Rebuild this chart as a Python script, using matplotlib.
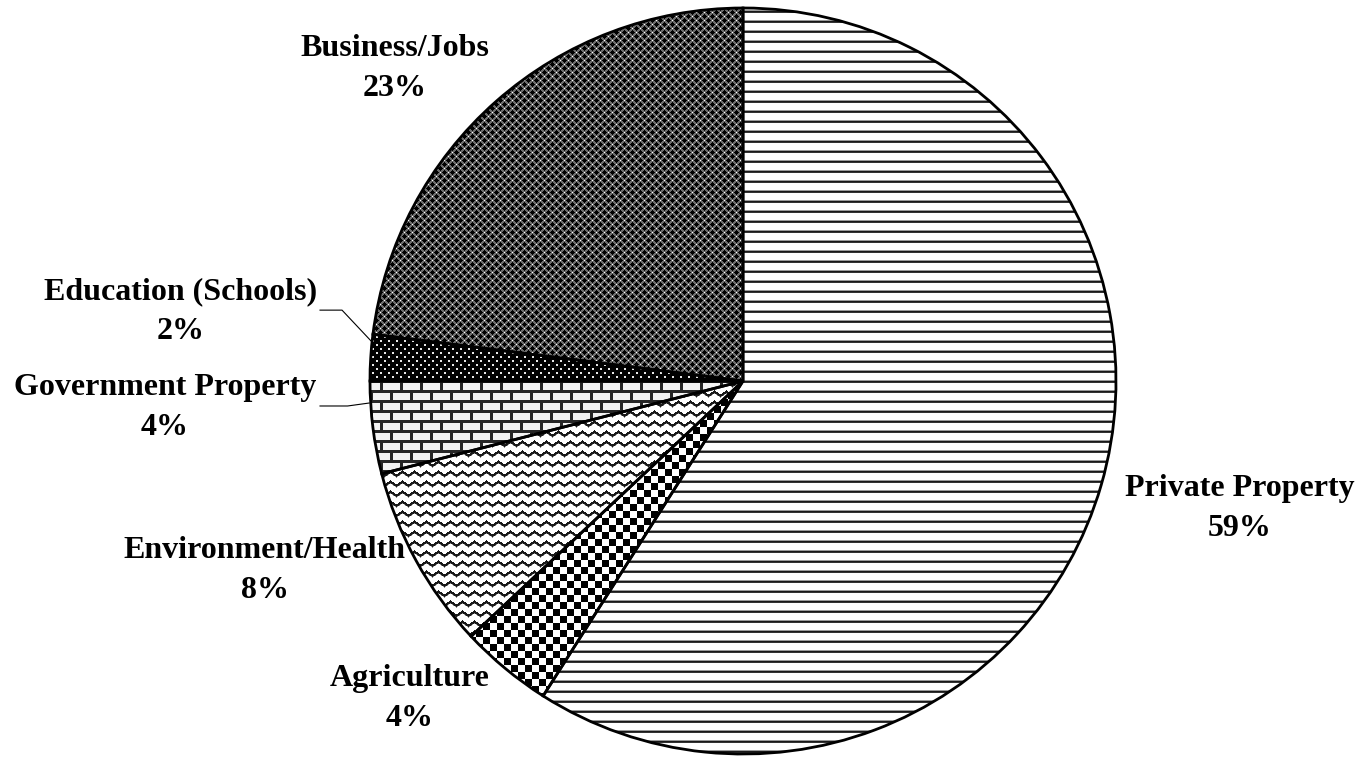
import numpy as np
import matplotlib
matplotlib.use('Agg')
import matplotlib.pyplot as plt

plt.rcParams['font.family'] = ['Liberation Serif', 'DejaVu Serif']

# data
categories = ['Private Property', 'Agriculture', 'Environment/Health',
              'Government Property', 'Education (Schools)', 'Business/Jobs']
shares = [59, 4, 8, 4, 2, 23]

# label centres and leader lines (data units, pie radius = 1)
label_pos = [(1.332, -0.343), (-0.893, -0.850), (-1.282, -0.509),
             (-1.550, -0.072), (-1.509, 0.185), (-0.933, 0.839)]
leaders = {3: [(-1.134, -0.067), (-1.060, -0.067), (-1.002, -0.059)],
           4: [(-1.134, 0.190), (-1.075, 0.190), (-0.995, 0.105)]}

W, H = 1362, 757
cx, cy, R = 743, 381, 373
r, c = np.mgrid[0:H, 0:W]


def lines():
    t = np.ones((H, W))
    t[r % 10 == 0] = 0.6
    t[r % 10 == 1] = 0.1
    t[r % 10 == 2] = 0.2
    return t


def checker():
    return (((r // 7) + (c // 7)) % 2).astype(float)


def zigzag():
    tri = np.abs((c % 12) - 6) / 6.0 * 4.0
    d = (r - tri) % 10
    t = np.ones((H, W))
    t[d < 2.4] = 0.1
    t[(d >= 2.4) & (d < 3.2)] = 0.55
    return t


def bricks():
    t = np.full((H, W), 0.95)
    row = r // 10
    shift = (row % 2) * 10
    t[(c + shift) % 20 < 3] = 0.15
    t[r % 10 < 3] = 0.15
    return t


def dots():
    t = np.zeros((H, W))
    a = (r % 8 < 2) & (c % 8 < 2)
    b = ((r + 4) % 8 < 2) & ((c + 4) % 8 < 2)
    t[a | b] = 0.9
    return t


def crosses():
    t = np.full((H, W), 0.42)
    rr, cc = r % 8, c % 8
    # black plus shapes on a staggered grid
    d1 = np.minimum(rr, 8 - rr) + np.minimum(cc, 8 - cc)
    d2 = np.abs(rr - 4) + np.abs(cc - 4)
    t[d1 <= 2] = 0.0
    t[d2 <= 2] = 0.0
    white = ((rr == 4) & (cc == 0)) | ((rr == 0) & (cc == 4))
    t[white] = 1.0
    return t


textures = [lines, checker, zigzag, bricks, dots, crosses]

fig = plt.figure(figsize=(W / 100, H / 100), dpi=100)
ax = fig.add_axes([0, 0, 1, 1])
xlim = (-cx / R, (W - cx) / R)
ylim = ((cy - H) / R, cy / R)

wedges, _ = ax.pie(shares, startangle=90, counterclock=False, radius=1,
                   center=(0, 0), frame=True,
                   wedgeprops=dict(facecolor='white', edgecolor='black', linewidth=2))
ax.set_aspect('auto')
ax.axis('off')

# fill each slice with its texture
for w, tex in zip(wedges, textures):
    im = ax.imshow(tex(), cmap='gray', vmin=0, vmax=1, interpolation='nearest',
                   extent=(xlim[0], xlim[1], ylim[0], ylim[1]), origin='upper',
                   zorder=w.get_zorder() + 0.1)
    im.set_clip_path(w)
    w.set_zorder(w.get_zorder() + 0.2)
    w.set_facecolor('none')

ax.set_xlim(xlim)
ax.set_ylim(ylim)
ax.set_aspect('auto')

for i, (name, val) in enumerate(zip(categories, shares)):
    x, y = label_pos[i]
    ax.text(x, y, f'{name}\n{val}%', ha='center', va='center',
            fontsize=23, fontweight='bold', linespacing=1.5)

for pts in leaders.values():
    xs, ys = zip(*pts)
    ax.plot(xs, ys, color='black', linewidth=0.8)

fig.savefig('out.png', dpi=100)
